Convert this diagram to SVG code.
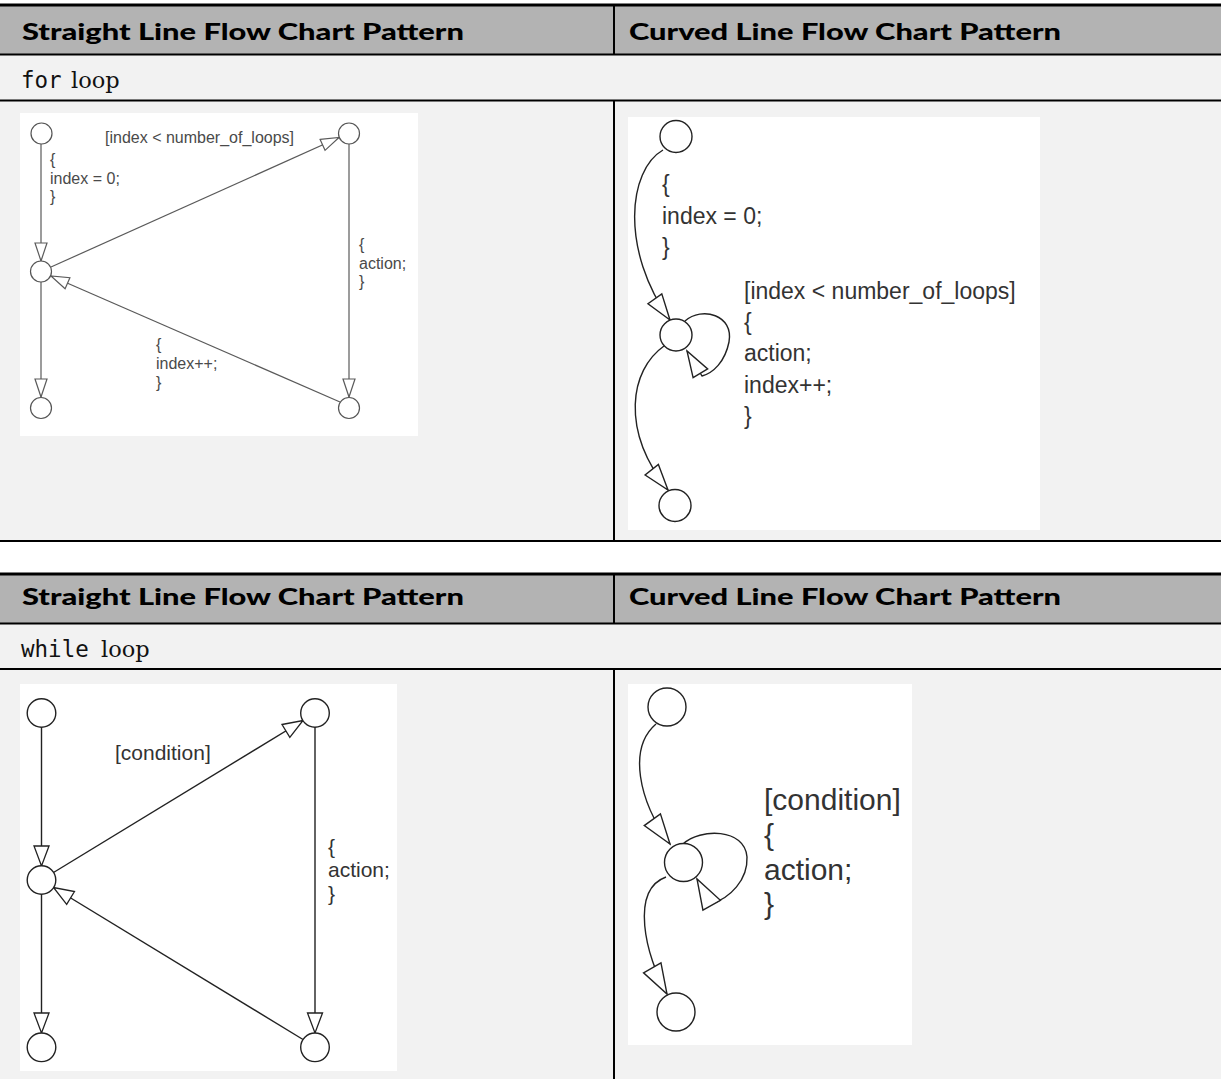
<svg xmlns="http://www.w3.org/2000/svg" width="1221" height="1079" viewBox="0 0 1221 1079">
<style>
.hdr{fill:#b3b3b3}
.row{fill:#f2f2f2}
.box{fill:#fff}
.bd{stroke:#000;stroke-width:2;fill:none}
.bdt{stroke:#000;stroke-width:3;fill:none}
.ht{font-family:Lato,"Open Sans","Liberation Sans",sans-serif;font-weight:900;font-size:23px;fill:#000}
.mono{font-family:"DejaVu Sans Mono","Liberation Mono",monospace;font-size:22.5px;fill:#111}
.serif{font-family:"DejaVu Serif","Liberation Serif",serif;font-size:22.5px;fill:#111}
.st{fill:#fff;stroke:#555;stroke-width:1.2}
.st2{fill:#fff;stroke:#222;stroke-width:1.4}
.cn{fill:none;stroke:#5a5a5a;stroke-width:1.2}
.cn2{fill:none;stroke:#222;stroke-width:1.4}
.lbl{font-family:"Liberation Sans",Arial,sans-serif;fill:#333}
.s16{font-size:16px;fill:#4a4a4a}
.s21{font-size:21px}
.s23{font-size:23px}
.s30{font-size:30px}
</style>
<defs>
<marker id="mA" markerUnits="userSpaceOnUse" orient="auto" viewBox="-2 -8 22 16" markerWidth="22" markerHeight="16" refX="18" refY="0"><path d="M0,-6 L18,0 L0,6 Z" fill="#fff" stroke="#5a5a5a" stroke-width="1.2"/></marker>
<marker id="mB" markerUnits="userSpaceOnUse" orient="auto" viewBox="-2 -11 30 22" markerWidth="30" markerHeight="22" refX="26" refY="0"><path d="M0,-8.5 L26,0 L0,8.5 Z" fill="#fff" stroke="#222" stroke-width="1.4"/></marker>
<marker id="mC" markerUnits="userSpaceOnUse" orient="auto" viewBox="-2 -10 24 20" markerWidth="24" markerHeight="20" refX="20" refY="0"><path d="M0,-7.5 L20,0 L0,7.5 Z" fill="#fff" stroke="#222" stroke-width="1.3"/></marker>
<marker id="mD" markerUnits="userSpaceOnUse" orient="auto" viewBox="-2 -12 34 24" markerWidth="34" markerHeight="24" refX="30" refY="0"><path d="M0,-10 L30,0 L0,10 Z" fill="#fff" stroke="#222" stroke-width="1.4"/></marker>
</defs>

<g id="table-for">
<rect class="hdr" x="0" y="5" width="1221" height="49"/>
<rect class="row" x="0" y="55" width="1221" height="45"/>
<rect class="row" x="0" y="101" width="1221" height="440"/>
<rect class="box" x="20" y="113" width="398" height="323"/>
<rect class="box" x="628" y="117" width="412" height="413"/>
<line class="bdt" x1="0" y1="5" x2="1221" y2="5"/>
<line class="bd" x1="0" y1="54.5" x2="1221" y2="54.5"/>
<line class="bd" x1="0" y1="100.5" x2="1221" y2="100.5"/>
<line class="bd" x1="0" y1="541" x2="1221" y2="541"/>
<line class="bd" x1="614" y1="5" x2="614" y2="54"/>
<line class="bd" x1="614" y1="101" x2="614" y2="541"/>
<text class="ht" x="22" y="40" textLength="442" lengthAdjust="spacingAndGlyphs">Straight Line Flow Chart Pattern</text>
<text class="ht" x="629" y="40" textLength="432" lengthAdjust="spacingAndGlyphs">Curved Line Flow Chart Pattern</text>
<text x="21" y="88"><tspan class="mono">for</tspan><tspan class="serif" x="71">loop</tspan></text>
</g>

<g id="table-while">
<rect class="hdr" x="0" y="574" width="1221" height="49"/>
<rect class="row" x="0" y="624" width="1221" height="45"/>
<rect class="row" x="0" y="670" width="1221" height="409"/>
<rect class="box" x="20" y="684" width="377" height="387"/>
<rect class="box" x="628" y="684" width="284" height="361"/>
<line class="bdt" x1="0" y1="574" x2="1221" y2="574"/>
<line class="bd" x1="0" y1="623.5" x2="1221" y2="623.5"/>
<line class="bd" x1="0" y1="669" x2="1221" y2="669"/>
<line class="bd" x1="614" y1="574" x2="614" y2="623"/>
<line class="bd" x1="614" y1="670" x2="614" y2="1079"/>
<text class="ht" x="22" y="605" textLength="442" lengthAdjust="spacingAndGlyphs">Straight Line Flow Chart Pattern</text>
<text class="ht" x="629" y="605" textLength="432" lengthAdjust="spacingAndGlyphs">Curved Line Flow Chart Pattern</text>
<text x="21" y="657"><tspan class="mono">while</tspan><tspan class="serif" x="101">loop</tspan></text>
</g>

<g id="connectors">
<!-- for loop straight -->
<line class="cn" x1="41" y1="144" x2="41" y2="261" marker-end="url(#mA)"/>
<line class="cn" x1="41" y1="282" x2="41" y2="397" marker-end="url(#mA)"/>
<line class="cn" x1="51" y1="267" x2="339" y2="137.5" marker-end="url(#mA)"/>
<line class="cn" x1="349" y1="144" x2="349" y2="397" marker-end="url(#mA)"/>
<line class="cn" x1="340" y1="402" x2="51" y2="276" marker-end="url(#mA)"/>
<!-- for loop curved -->
<path class="cn2" d="M663 150 C628 170 620 250 670 320" marker-end="url(#mB)"/>
<path class="cn2" d="M685 321 C702 306 734 315 729 342 C725 362 713 373 702 376 L687 351" marker-end="url(#mB)"/>
<path class="cn2" d="M664 346 C630 370 620 430 668 490" marker-end="url(#mB)"/>
<!-- while loop straight -->
<line class="cn2" x1="41.5" y1="727" x2="41.5" y2="866" marker-end="url(#mC)"/>
<line class="cn2" x1="41.5" y1="894" x2="41.5" y2="1033" marker-end="url(#mC)"/>
<line class="cn2" x1="53.5" y1="872.5" x2="303" y2="720.5" marker-end="url(#mC)"/>
<line class="cn2" x1="315" y1="727" x2="315" y2="1033" marker-end="url(#mC)"/>
<line class="cn2" x1="303" y1="1039.5" x2="53.5" y2="887.5" marker-end="url(#mC)"/>
<!-- while loop curved -->
<path class="cn2" d="M656 724 C628 748 638 800 670 844" marker-end="url(#mD)"/>
<path class="cn2" d="M683 844 C700 828 745 828 747 857 C748 880 730 898 711 904 L697 879" marker-end="url(#mD)"/>
<path class="cn2" d="M666 877 C630 890 645 955 667 994" marker-end="url(#mD)"/>
</g>

<g id="labels" class="lbl">
<text class="s16" x="105" y="143">[index &lt; number_of_loops]</text>
<text class="s16" x="50" y="165">{</text>
<text class="s16" x="50" y="183.5">index = 0;</text>
<text class="s16" x="50" y="202">}</text>
<text class="s16" x="359" y="249.5">{</text>
<text class="s16" x="359" y="268.5">action;</text>
<text class="s16" x="359" y="287">}</text>
<text class="s16" x="156" y="350">{</text>
<text class="s16" x="156" y="369">index++;</text>
<text class="s16" x="156" y="388">}</text>

<text class="s23" x="662" y="192">{</text>
<text class="s23" x="662" y="224">index = 0;</text>
<text class="s23" x="662" y="255">}</text>
<text class="s23" x="744" y="299">[index &lt; number_of_loops]</text>
<text class="s23" x="744" y="330">{</text>
<text class="s23" x="744" y="361">action;</text>
<text class="s23" x="744" y="393">index++;</text>
<text class="s23" x="744" y="424">}</text>

<text class="s21" x="115" y="760">[condition]</text>
<text class="s21" x="328" y="854">{</text>
<text class="s21" x="328" y="877">action;</text>
<text class="s21" x="328" y="901">}</text>

<text class="s30" x="764" y="810">[condition]</text>
<text class="s30" x="764" y="845">{</text>
<text class="s30" x="764" y="880">action;</text>
<text class="s30" x="764" y="914">}</text>
</g>

<g id="n-for-s-start"><circle class="st" cx="41.5" cy="133.5" r="10.5"/></g>
<g id="n-for-s-junction"><circle class="st" cx="41" cy="271.5" r="10.5"/></g>
<g id="n-for-s-end"><circle class="st" cx="41" cy="408" r="10.5"/></g>
<g id="n-for-s-top-right"><circle class="st" cx="349" cy="133.5" r="10.5"/></g>
<g id="n-for-s-bottom-right"><circle class="st" cx="349" cy="408" r="10.5"/></g>

<g id="n-for-c-start"><circle class="st2" cx="676" cy="136.5" r="16"/></g>
<g id="n-for-c-junction"><circle class="st2" cx="676" cy="335" r="16"/></g>
<g id="n-for-c-end"><circle class="st2" cx="675" cy="505.5" r="16"/></g>

<g id="n-while-s-start"><circle class="st2" cx="41.5" cy="713" r="14.3"/></g>
<g id="n-while-s-junction"><circle class="st2" cx="41.5" cy="880" r="14.3"/></g>
<g id="n-while-s-end"><circle class="st2" cx="41.5" cy="1047.3" r="14.3"/></g>
<g id="n-while-s-top-right"><circle class="st2" cx="315" cy="713" r="14.3"/></g>
<g id="n-while-s-bottom-right"><circle class="st2" cx="315" cy="1047.3" r="14.3"/></g>

<g id="n-while-c-start"><circle class="st2" cx="667" cy="707" r="19"/></g>
<g id="n-while-c-junction"><circle class="st2" cx="683.5" cy="862.5" r="19"/></g>
<g id="n-while-c-end"><circle class="st2" cx="676" cy="1012" r="19"/></g>
</svg>
